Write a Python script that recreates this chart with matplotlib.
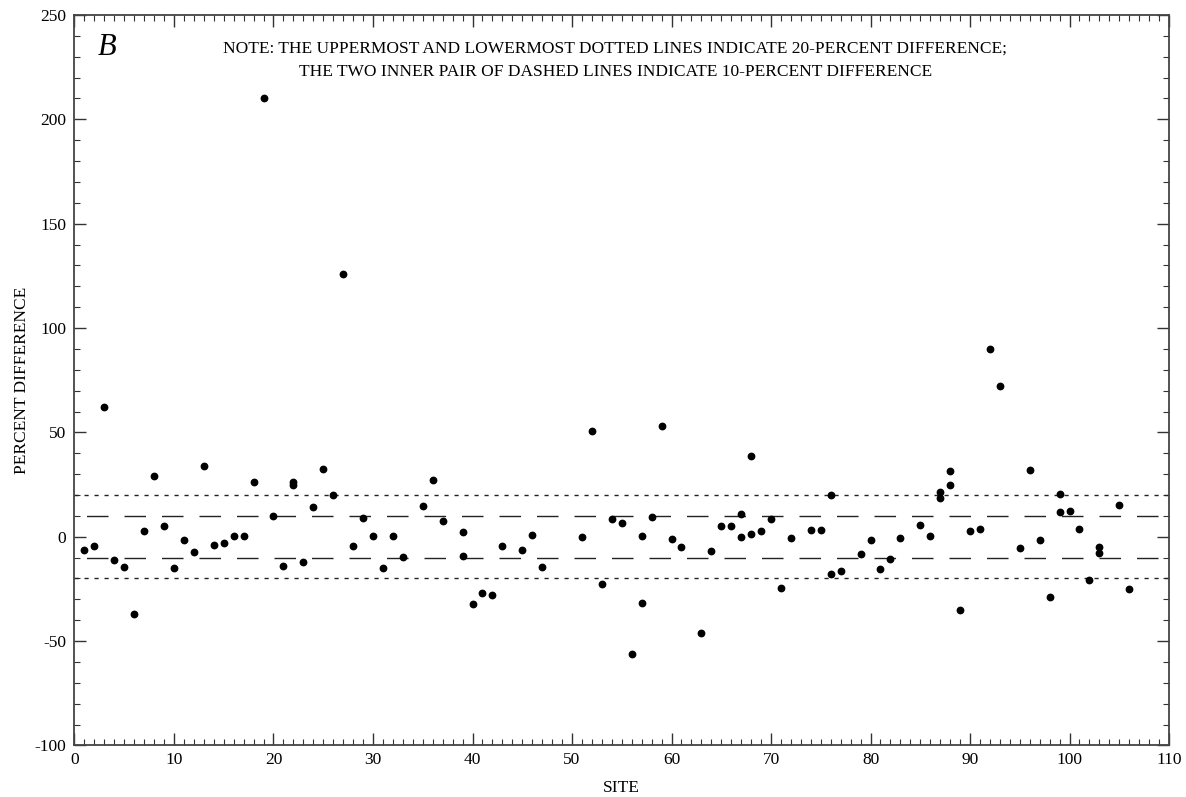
import matplotlib

matplotlib.use("Agg")

import matplotlib.pyplot as plt
from matplotlib.ticker import MultipleLocator

# Percent difference by site (sites with two samples appear twice)
sites = [
    1, 2, 3, 4, 5, 6, 7, 8, 9, 10,
    11, 12, 13, 14, 15, 16, 17, 18, 19, 20,
    21, 22, 22, 23, 24, 25, 26, 27, 28, 29,
    30, 31, 32, 33, 35, 36, 37, 39, 39, 40,
    41, 42, 43, 45, 46, 47, 51, 52, 53, 54,
    55, 56, 57, 57, 58, 59, 60, 61, 63, 64,
    65, 66, 67, 67, 68, 68, 69, 70, 71, 72,
    74, 75, 76, 76, 77, 79, 80, 81, 82, 83,
    85, 86, 87, 87, 88, 88, 89, 90, 91, 92,
    93, 95, 96, 97, 98, 99, 99, 100, 101, 102,
    103, 103, 105, 106,
]
pct_diff = [
    -6.3, -4.3, 62.3, -11.1, -14.5, -36.8, 2.7, 29.0, 5.3, -15.0,
    -1.6, -7.2, 33.7, -4.0, -3.0, 0.5, 0.5, 26.2, 210.0, 9.9,
    -14.0, 26.3, 25.0, -12.1, 14.4, 32.6, 19.8, 126.0, -4.3, 8.8,
    0.2, -15.0, 0.3, -9.9, 14.7, 27.0, 7.5, 2.2, -9.2, -32.2,
    -27.0, -28.1, -4.6, -6.2, 0.8, -14.7, 0.0, 50.9, -22.6, 8.3,
    6.7, -56.4, 0.2, -31.7, 9.4, 53.1, -1.0, -4.8, -46.1, -7.0,
    5.1, 5.0, 11.0, -0.3, 38.5, 1.1, 2.9, 8.5, -24.4, -0.5,
    3.3, 3.1, 20.0, -17.8, -16.6, -8.4, -1.7, -15.5, -10.5, -0.8,
    5.4, 0.2, 21.4, 18.7, 31.3, 24.6, -34.9, 2.7, 3.8, 90.1,
    72.4, -5.6, 31.9, -1.4, -29.0, 20.3, 11.8, 12.3, 3.8, -20.6,
    -5.1, -8.0, 15.0, -25.0,
]

outer_limits = [20, -20]
inner_limits = [10, -10]

plt.rcParams["font.family"] = ["Liberation Serif", "DejaVu Serif"]
plt.rcParams["axes.unicode_minus"] = False

fig = plt.figure(figsize=(11.86, 7.97), dpi=100)
ax = fig.add_axes([0.0628, 0.0647, 0.9229, 0.9165])

# dotted lines at +/-20 percent, long dashes at +/-10 percent
for lim in outer_limits:
    ax.axhline(lim, color="#222222", linewidth=1.0, linestyle=(0, (3.0, 4.2)))
for lim in inner_limits:
    ax.axhline(lim, color="#222222", linewidth=1.0,
               linestyle=(18, (15.5, 11.5)))

ax.plot(sites, pct_diff, "o", color="black", markersize=4.6, zorder=3)

ax.set_xlim(0, 110)
ax.set_ylim(-100, 250)
ax.xaxis.set_major_locator(MultipleLocator(10))
ax.xaxis.set_minor_locator(MultipleLocator(1))
ax.yaxis.set_major_locator(MultipleLocator(50))
ax.yaxis.set_minor_locator(MultipleLocator(10))
ax.tick_params(which="both", direction="in", top=True, right=True,
               color="#333333", labelsize=12.5)
ax.tick_params(which="major", length=8.5, width=1.0)
ax.tick_params(which="minor", length=4.2, width=0.8)
ax.tick_params(axis="x", pad=5)
ax.tick_params(axis="y", pad=6)
for spine in ax.spines.values():
    spine.set_color("#444444")
    spine.set_linewidth(1.3)

ax.set_xlabel("SITE", fontsize=12.5, labelpad=8.5)
ax.set_ylabel("PERCENT DIFFERENCE", fontsize=12.5, labelpad=3)

ax.text(0.021, 0.955, "B", transform=ax.transAxes, fontsize=22,
        fontstyle="italic", ha="left", va="center")
ax.text(0.494, 0.938,
        "NOTE: THE UPPERMOST AND LOWERMOST DOTTED LINES INDICATE 20-PERCENT DIFFERENCE;\n"
        "THE TWO INNER PAIR OF DASHED LINES INDICATE 10-PERCENT DIFFERENCE",
        transform=ax.transAxes, fontsize=12.5, ha="center", va="center",
        linespacing=1.55)

fig.savefig("out.png", dpi=100)
plt.close(fig)
